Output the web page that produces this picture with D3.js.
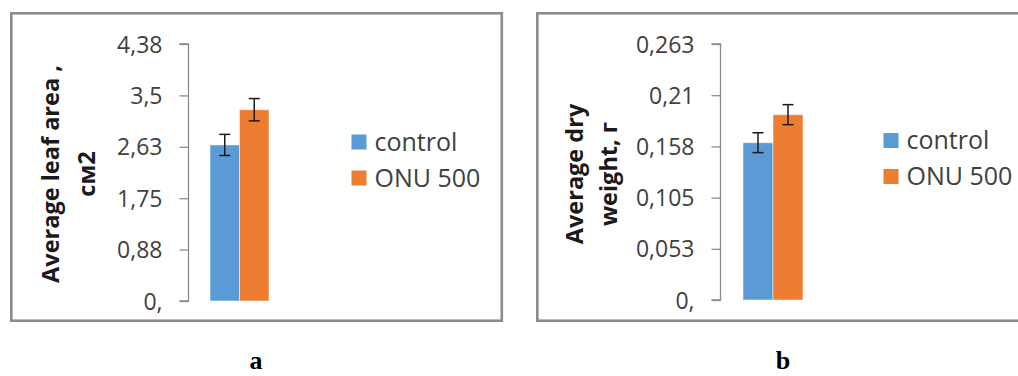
<!DOCTYPE html>
<html>
<head>
<meta charset="utf-8">
<script src="https://cdn.jsdelivr.net/npm/d3@7"></script>
<style>
  html, body { margin: 0; padding: 0; background: #fff; }
  svg { display: block; }
</style>
</head>
<body>
<svg id="chart" width="1018" height="376"></svg>
<script>
// Series shown in both panels
const series = ["control", "ONU 500"];
const colors = ["#5b9bd5", "#ed7d31"];

// Panel a: average leaf area, cm2
const leafArea = [2.66, 3.26];
const leafAreaErr = [0.18, 0.19];
const leafTicks = [0, 0.876, 1.752, 2.628, 3.504, 4.38];
const leafTickLabels = ["0,", "0,88", "1,75", "2,63", "3,5", "4,38"];
const leafTitle = ["Average leaf area ,", "см2"];

// Panel b: average dry weight, g
const dryWeight = [0.1616, 0.1904];
const dryWeightErr = [0.0102, 0.0103];
const dryTicks = [0, 0.0526, 0.1052, 0.1578, 0.2104, 0.263];
const dryTickLabels = ["0,", "0,053", "0,105", "0,158", "0,21", "0,263"];
const dryTitle = ["Average dry", "weight, г"];

const panelLetters = ["a", "b"];

const svg = d3.select("#chart");
const sans = "'Open Sans', sans-serif";

function drawPanel(opt) {
  const g = svg.append("g");

  // frame
  g.append("rect")
    .attr("x", opt.frame[0]).attr("y", opt.frame[1])
    .attr("width", opt.frame[2]).attr("height", opt.frame[3])
    .attr("fill", "#fff").attr("stroke", "#8c8c8c").attr("stroke-width", 2.6);

  const y = d3.scaleLinear().domain([0, d3.max(opt.ticks)]).range([opt.y0, opt.y1]);
  const x = d3.scaleBand().domain(series).range([opt.barX0, opt.barX1]).paddingInner(0);

  // y axis
  const axis = d3.axisLeft(y)
    .tickValues(opt.ticks)
    .tickSize(9)
    .tickPadding(17)
    .tickFormat((d, i) => opt.tickLabels[i]);
  const ag = g.append("g").attr("transform", `translate(${opt.axisX},0)`).call(axis);
  ag.select(".domain").attr("stroke", "#8c8c8c").attr("stroke-width", 1.3)
    .attr("d", `M${-9},${opt.y1}H0V${opt.y0}H${-9}`);
  ag.selectAll(".tick line").attr("stroke", "#8c8c8c").attr("stroke-width", 1.3);
  ag.selectAll(".tick text")
    .attr("fill", "#404040")
    .style("font-family", sans)
    .style("font-size", "23px")
    .attr("dy", "0.35em");

  // bars
  g.selectAll(".bar").data(opt.values).enter().append("rect")
    .attr("x", (d, i) => x(series[i]))
    .attr("y", d => y(d))
    .attr("width", x.bandwidth())
    .attr("height", d => y(0) - y(d))
    .attr("fill", (d, i) => colors[i])
    .attr("stroke", "#ffffff").attr("stroke-opacity", 0.5).attr("stroke-width", 1);

  // error bars
  const eb = g.selectAll(".err").data(opt.values).enter().append("g");
  const cx = (i) => x(series[i]) + x.bandwidth() / 2;
  eb.append("line")
    .attr("x1", (d, i) => cx(i)).attr("x2", (d, i) => cx(i))
    .attr("y1", (d, i) => y(d + opt.errors[i])).attr("y2", (d, i) => y(d - opt.errors[i]));
  eb.append("line")
    .attr("x1", (d, i) => cx(i) - 5.5).attr("x2", (d, i) => cx(i) + 5.5)
    .attr("y1", (d, i) => y(d + opt.errors[i])).attr("y2", (d, i) => y(d + opt.errors[i]));
  eb.append("line")
    .attr("x1", (d, i) => cx(i) - 5.5).attr("x2", (d, i) => cx(i) + 5.5)
    .attr("y1", (d, i) => y(d - opt.errors[i])).attr("y2", (d, i) => y(d - opt.errors[i]));
  eb.selectAll("line").attr("stroke", "#1a1a1a").attr("stroke-width", 1.5);

  // axis title (two rotated lines)
  const t = g.append("text")
    .attr("transform", `translate(${opt.titleX},${opt.titleY}) rotate(-90)`)
    .attr("text-anchor", "middle")
    .attr("fill", "#1a1a1a")
    .style("font-family", sans)
    .style("font-weight", "bold")
    .style("font-size", "23.5px");
  opt.title.forEach((line, i) => {
    t.append("tspan").attr("x", 0).attr("y", i * opt.titleGap).text(line);
  });

  // legend
  const lg = g.append("g").attr("transform", `translate(${opt.legendX},${opt.legendY})`);
  series.forEach((s, i) => {
    lg.append("rect").attr("x", 0).attr("y", i * 36).attr("width", 15).attr("height", 15)
      .attr("fill", colors[i]);
    lg.append("text").attr("x", 23).attr("y", i * 36 + 16)
      .attr("fill", "#404040")
      .style("font-family", sans).style("font-size", "25px")
      .text(s);
  });

  // panel letter
  g.append("text")
    .attr("x", opt.letterX).attr("y", 369)
    .attr("text-anchor", "middle")
    .attr("fill", "#000")
    .style("font-family", "'Liberation Serif', 'Times New Roman', serif")
    .style("font-weight", "bold")
    .style("font-size", "26px")
    .text(opt.letter);
}

drawPanel({
  frame: [11.3, 13.3, 490.5, 307.4],
  values: leafArea, errors: leafAreaErr,
  ticks: leafTicks, tickLabels: leafTickLabels,
  y0: 301, y1: 44, axisX: 188.5, barX0: 210, barX1: 269,
  title: leafTitle, titleX: 59, titleY: 174, titleGap: 36,
  legendX: 351.5, legendY: 134.5,
  letter: panelLetters[0], letterX: 256
});

drawPanel({
  frame: [537.3, 13.3, 490, 307.4],
  values: dryWeight, errors: dryWeightErr,
  ticks: dryTicks, tickLabels: dryTickLabels,
  y0: 300, y1: 44, axisX: 720.5, barX0: 743, barX1: 803,
  title: dryTitle, titleX: 583, titleY: 174, titleGap: 34,
  legendX: 883.5, legendY: 133,
  letter: panelLetters[1], letterX: 783
});
</script>
</body>
</html>
